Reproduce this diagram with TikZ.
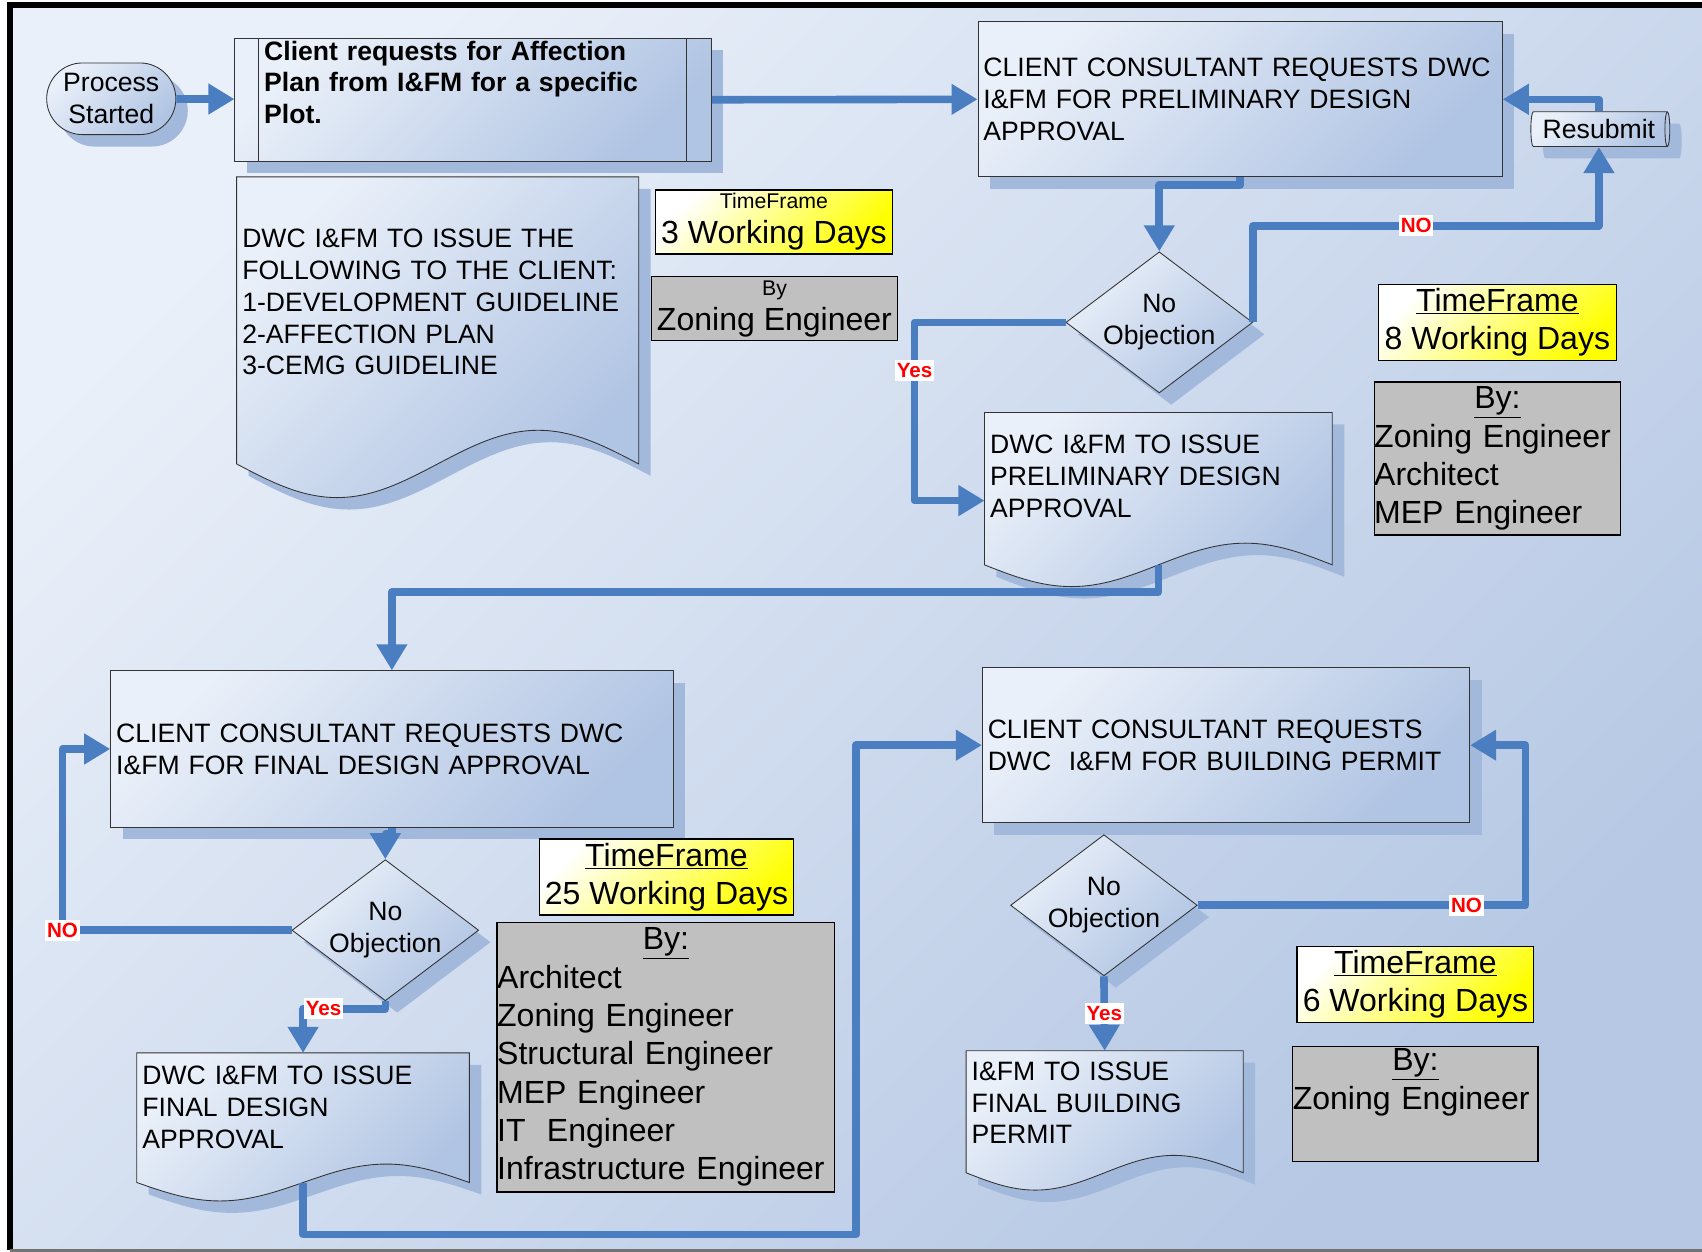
\documentclass[tikz,border=0pt]{standalone}
\usepackage{fontspec}
\setmainfont{Liberation Sans}
\usetikzlibrary{arrows.meta}
\usetikzlibrary{calc, shapes.geometric, shapes.misc, shadows, backgrounds}

\pgfdeclarelayer{docs}
\pgfsetlayers{background,docs,main}

\definecolor{flowblue}{RGB}{74,126,193}
\definecolor{boxlight}{RGB}{234,240,249}
\definecolor{boxdark}{RGB}{176,196,227}
\definecolor{shadowblue}{RGB}{163,185,220}
\definecolor{bglight}{RGB}{234,240,249}
\definecolor{bgdark}{RGB}{182,200,228}
\definecolor{infogray}{RGB}{192,192,192}

% wavy bottom of a document node
\newcommand{\docwave}[2]{%
  \begin{pgfonlayer}{docs}
    \draw[docpage] (#1.north west) -- (#1.north east) -- (#1.south east)
      sin ($(#1.south east)!0.25!(#1.south west)+(0,-#2)$)
      cos ($(#1.south east)!0.5!(#1.south west)$)
      sin ($(#1.south east)!0.75!(#1.south west)+(0,#2)$)
      cos (#1.south west) -- cycle;
  \end{pgfonlayer}}

\begin{document}
\begin{tikzpicture}[x=1pt, y=-1pt]
      \tikzset{box/.style = {shape=rectangle, draw=black!80, line width=0.8pt, top color=boxlight, bottom color=boxdark, shading angle=45, drop shadow={fill=shadowblue, opacity=1, shadow xshift=11pt, shadow yshift=-11pt}, inner sep=0pt, font=\fontsize{24.5}{29.3}\selectfont}}
      \tikzset{docpage/.style = {draw=black!80, line width=0.8pt, top color=boxlight, bottom color=boxdark, shading angle=45, drop shadow={fill=shadowblue, opacity=1, shadow xshift=11pt, shadow yshift=-11pt}}}
      \tikzset{doc/.style = {shape=rectangle, anchor=north west, inner xsep=5pt, inner ysep=0pt, align=left, font=\fontsize{24.5}{29.3}\selectfont}}
      \tikzset{decision/.style = {box, shape=diamond, aspect=1.32, minimum width=172pt, minimum height=130pt, align=center}}
      \tikzset{boxline/.style = {draw=black!80, line width=0.8pt}}
      \tikzset{flow/.style = {draw=flowblue, line width=7pt, line join=round, -{Triangle[length=24pt, width=27pt]}}}
      \tikzset{lbl/.style = {fill=white, text=red, inner xsep=1.5pt, inner ysep=3pt, font=\bfseries\fontsize{19}{20}\selectfont}}
      \tikzset{timebox/.style = {draw=black, line width=1.2pt, top color=white, bottom color=yellow, shading angle=45, inner sep=0pt, align=center, font=\fontsize{29.5}{35.3}\selectfont}}
      \tikzset{bybox/.style = {draw=black, line width=1.2pt, fill=infogray, inner sep=0pt, font=\fontsize{29.5}{35.3}\selectfont}}

      \useasboundingbox (0,0) rectangle (1568,1153);
      \begin{scope}[on background layer]
        \fill[white] (0,0) rectangle (1568,1153);
        \shade[top color=bglight, bottom color=bgdark, shading angle=45] (9,5) rectangle (1568,1152);
        \draw[line width=5.5pt] (9,1152) -- (9,5) -- (1568,5);
        \draw[black!55, line width=2pt] (9,1152) -- (1568,1152);
      \end{scope}

      % first row
      \node[box, shape=rounded rectangle, minimum width=119pt, minimum height=66pt, align=center] (start) at (102.5, 91) {Process\\Started};
      \node[box, anchor=north west, inner xsep=27pt, text width=385pt, text height=20pt, text depth=93pt, align=left, font=\bfseries\fontsize{24.5}{29.3}\selectfont] (req) at (216, 35) {Client requests for Affection\\Plan from I\&FM for a specific\\Plot.};
      \draw[boxline] ([xshift=22pt]req.north west) -- ([xshift=22pt]req.south west);
      \draw[boxline] ([xshift=-23pt]req.north east) -- ([xshift=-23pt]req.south east);

      \node[doc, text width=360pt, text height=65pt, text depth=199pt] (doc1) at (218, 163) {DWC I\&FM TO ISSUE THE\\FOLLOWING TO THE CLIENT:\\1-DEVELOPMENT GUIDELINE\\2-AFFECTION PLAN\\3-CEMG GUIDELINE};
      \docwave{doc1}{31}

      \node[box, minimum height=143pt, text width=473pt, inner xsep=5pt, align=left] (ccr1) at (1142.5, 91.5) {CLIENT CONSULTANT REQUESTS DWC\\I\&FM FOR PRELIMINARY DESIGN\\APPROVAL};
      \node[box, shape=cylinder, aspect=0.25, minimum width=32pt, minimum height=128pt] (resub) at (1473, 119) {Resubmit};
      \node[decision] (dia1) at (1068, 297) {No\\Objection};
      \node[doc, text width=310pt, text height=38pt, text depth=102pt] (doc2) at (907, 380) {DWC I\&FM TO ISSUE\\PRELIMINARY DESIGN\\APPROVAL};
      \docwave{doc2}{20}

      % second row
      \node[box, minimum height=144pt, text width=508pt, inner xsep=5pt, align=left] (ccr2) at (361, 690) {CLIENT CONSULTANT REQUESTS DWC\\I\&FM FOR FINAL DESIGN APPROVAL};
      \node[decision] (dia2) at (355, 857) {No\\Objection};
      \node[doc, text width=296pt, text height=29pt, text depth=90pt] (doc3) at (126, 970) {DWC I\&FM TO ISSUE\\FINAL DESIGN\\APPROVAL};
      \docwave{doc3}{17}

      \node[box, minimum height=143pt, text width=439pt, inner xsep=5pt, align=left] (ccr3) at (1129.5, 686.5) {CLIENT CONSULTANT REQUESTS\\DWC\ \ I\&FM FOR BUILDING PERMIT};
      \node[decision] (dia3) at (1017, 834) {No\\Objection};
      \node[doc, text width=245pt, text height=27pt, text depth=85pt] (doc4) at (890, 968) {I\&FM TO ISSUE\\FINAL BUILDING\\PERMIT};
      \docwave{doc4}{16}

      % time frames
      \node[timebox, minimum width=218pt, minimum height=59pt] (tf1) at (713, 204.5) {{\fontsize{19.6}{22}\selectfont TimeFrame}\\[-3pt]3 Working Days};
      \node[bybox, minimum width=227pt, minimum height=59pt, align=center] (by1) at (713.5, 284.5) {{\fontsize{19.6}{22}\selectfont By}\\[-3pt]Zoning Engineer};
      \node[timebox, minimum width=219pt, minimum height=70pt] (tf2) at (1379.5, 297) {\underline{TimeFrame}\\8 Working Days};
      \node[bybox, minimum height=141pt, text width=227pt, align=left] (by2) at (1379.5, 422.5) {\makebox[\linewidth]{\underline{By:}}\\Zoning Engineer\\Architect\\MEP Engineer};
      \node[timebox, minimum width=234pt, minimum height=70pt] (tf3) at (614, 808) {\underline{TimeFrame}\\25 Working Days};
      \node[bybox, minimum height=248pt, text width=311pt, align=left] (by3) at (613.5, 974) {\makebox[\linewidth]{\underline{By:}}\\Architect\\Zoning Engineer\\Structural Engineer\\MEP Engineer\\IT\ \ Engineer\\Infrastructure Engineer};
      \node[timebox, minimum width=218pt, minimum height=70pt] (tf4) at (1304, 907) {\underline{TimeFrame}\\6 Working Days};
      \node[bybox, minimum height=106pt, text width=226pt, align=left] (by4) at (1304, 1017) {\makebox[\linewidth]{\underline{By:}}\\Zoning Engineer\\\strut};

      % connectors
      \draw[flow] (start) -- (req);
      \draw[flow] (req.east) -- (ccr1.west);
      \draw[flow] (ccr1.south) -- ++(0,7) -| (dia1.north);
      \draw[flow] (dia1.east) -- ++(0,-89) -| node[lbl, pos=0.236] {NO} (resub.south);
      \draw[flow] (resub.north) |- (ccr1.east);
      \draw[flow] (dia1.west) -- ++(-139,0) |- node[lbl, pos=0.134] {Yes} ([yshift=-11pt]doc2.west);
      \draw[flow] (doc2.south) -- ++(0,25) -| (ccr2.north);
      \draw[flow] (ccr2.south) -- ++(0,6) -| (dia2.north);
      \draw[flow] (dia2.west) -- ++(-211,0) node[lbl] {NO} |- (ccr2.west);
      \draw[flow] (dia2.south) -- ++(0,7) -| node[lbl, pos=0.375] {Yes} (doc3.north);
      \draw[flow] (doc3.south) -- ++(0,48) -| ([xshift=-116pt]ccr3.west) -- (ccr3.west);
      \draw[flow] (dia3.east) -- ++(302,0) node[lbl, pos=0.82] {NO} |- (ccr3.east);
      \draw[flow] (dia3.south) -- node[lbl] {Yes} (doc4.north);
\end{tikzpicture}
\end{document}
